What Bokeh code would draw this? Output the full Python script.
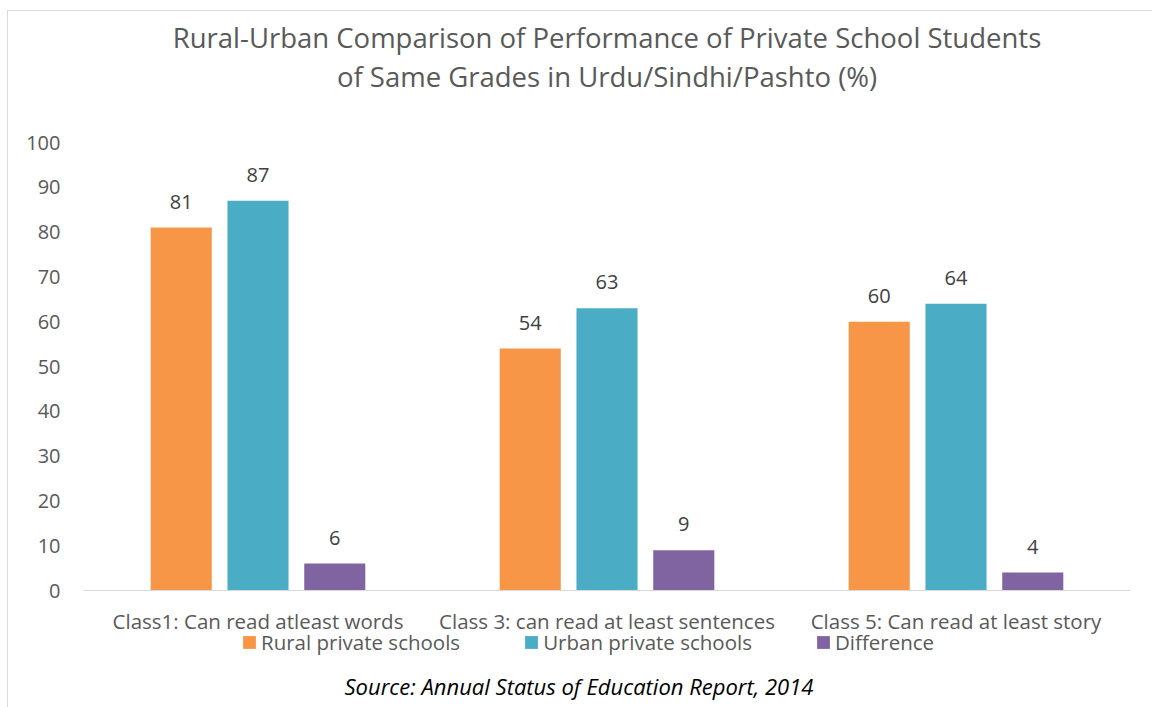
from bokeh.plotting import figure
from bokeh.layouts import column
from bokeh.models import (ColumnDataSource, FactorRange, Range1d, FixedTicker,
                          Legend, LegendItem, Title)
from bokeh.transform import dodge
from bokeh.core.properties import value
from bokeh.embed import file_html
from bokeh.resources import INLINE

# ---- data ----
categories = ["Class1: Can read atleast words",
              "Class 3: can read at least sentences",
              "Class 5: Can read at least story"]
rural = [81, 54, 60]
urban = [87, 63, 64]
difference = [6, 9, 4]
series_names = ["Rural private schools", "Urban private schools", "Difference"]
colors = ["#F79646", "#4BACC6", "#8064A2"]
y_ticks = [0, 10, 20, 30, 40, 50, 60, 70, 80, 90, 100]
title_line1 = "Rural-Urban Comparison of Performance of Private School Students"
title_line2 = "of Same Grades in Urdu/Sindhi/Pashto (%)"
source_note = "Source: Annual Status of Education Report, 2014"

FONT = "Open Sans"
LABEL_COLOR = "#595959"

src = ColumnDataSource(dict(
    cat=categories,
    rural=rural, urban=urban, diff=difference,
    rural_t=[str(v) for v in rural],
    urban_t=[str(v) for v in urban],
    diff_t=[str(v) for v in difference],
))

W = 1144
H_MAIN = 626
H_LEG = 85
OVERLAP = 15
fields = ["rural", "urban", "diff"]
offsets = [-0.22, 0.0, 0.22]

# ---------------- main chart ----------------
p = figure(x_range=FactorRange(factors=categories), y_range=Range1d(0, 100),
           width=W, height=H_MAIN, output_backend="svg", toolbar_location=None,
           min_border_left=75, min_border_right=22, min_border_top=131,
           min_border_bottom=47, outline_line_color=None,
           background_fill_color="white", border_fill_color="white")
p.xgrid.visible = False
p.ygrid.visible = False

for f, off, col in zip(fields, offsets, colors):
    p.vbar(x=dodge("cat", off, range=p.x_range), top=f, width=0.175,
           source=src, fill_color=col, line_color=None)
    p.text(x=dodge("cat", off, range=p.x_range), y=f, text=f + "_t", source=src,
           text_align="center", text_baseline="middle", y_offset=-26,
           text_font=value(FONT), text_font_size="20px", text_color="#404040")

yax = p.yaxis[0]
yax.ticker = FixedTicker(ticks=y_ticks)
yax.axis_line_color = None
yax.major_tick_line_color = None
yax.minor_tick_line_color = None
yax.major_tick_out = 0
yax.major_tick_in = 0
yax.major_label_standoff = 23
yax.major_label_text_font = FONT
yax.major_label_text_font_size = "20px"
yax.major_label_text_color = LABEL_COLOR

xax = p.xaxis[0]
xax.axis_line_color = "#D9D9D9"
xax.axis_line_width = 1
xax.major_tick_line_color = None
xax.minor_tick_line_color = None
xax.major_tick_out = 0
xax.major_tick_in = 0
xax.major_label_standoff = 16
xax.major_label_text_font = FONT
xax.major_label_text_font_size = "20.5px"
xax.major_label_text_color = LABEL_COLOR

# titles: spacer nearest the frame, then line 2, then line 1
p.add_layout(Title(text=" ", text_font_size="1px", standoff=45), "above")
p.add_layout(Title(text=title_line2, align="center", standoff=0,
                   text_font=FONT, text_font_style="normal", text_font_size="27.5px",
                   text_color=LABEL_COLOR), "above")
p.add_layout(Title(text=title_line1, align="center", standoff=0,
                   text_font=FONT, text_font_style="normal", text_font_size="27.5px",
                   text_color=LABEL_COLOR), "above")

# ---------------- legend strip + source ----------------
q = figure(x_range=p.x_range, y_range=Range1d(1000, 1001),
           width=W, height=H_LEG, output_backend="svg", toolbar_location=None,
           min_border_left=75, min_border_right=22, min_border_top=0,
           min_border_bottom=46, outline_line_color=None,
           background_fill_color=None, border_fill_color=None)
q.styles = {"margin-top": f"-{OVERLAP}px"}
q.xgrid.visible = False
q.ygrid.visible = False
q.axis.visible = False

leg_renderers = []
for f, off, col in zip(fields, offsets, colors):
    r = q.vbar(x=dodge("cat", off, range=q.x_range), top=f, width=0.175,
               source=src, fill_color=col, line_color=None, visible=False)
    leg_renderers.append(r)

legend = Legend(items=[LegendItem(label=n, renderers=[r]) for n, r in zip(series_names, leg_renderers)],
                orientation="horizontal", location=(158, 5),
                glyph_width=16, glyph_height=16, label_standoff=4, spacing=63,
                padding=0, margin=0, border_line_color=None,
                background_fill_alpha=0, label_text_font=FONT,
                label_text_font_size="20.5px", label_text_color=LABEL_COLOR,
                label_height=20)
q.add_layout(legend, "center")

q.add_layout(Title(text=source_note, align="left", offset=261, standoff=14,
                   text_font=FONT, text_font_style="italic", text_font_size="22px",
                   text_color="#000000"), "below")

page = column(p, q, spacing=0)
page.styles = {"margin-left": "7px", "margin-top": "10px",
               "border-left": "1px solid #D9D9D9", "border-top": "1px solid #D9D9D9"}

open("out.html", "w").write(file_html(page, INLINE))
